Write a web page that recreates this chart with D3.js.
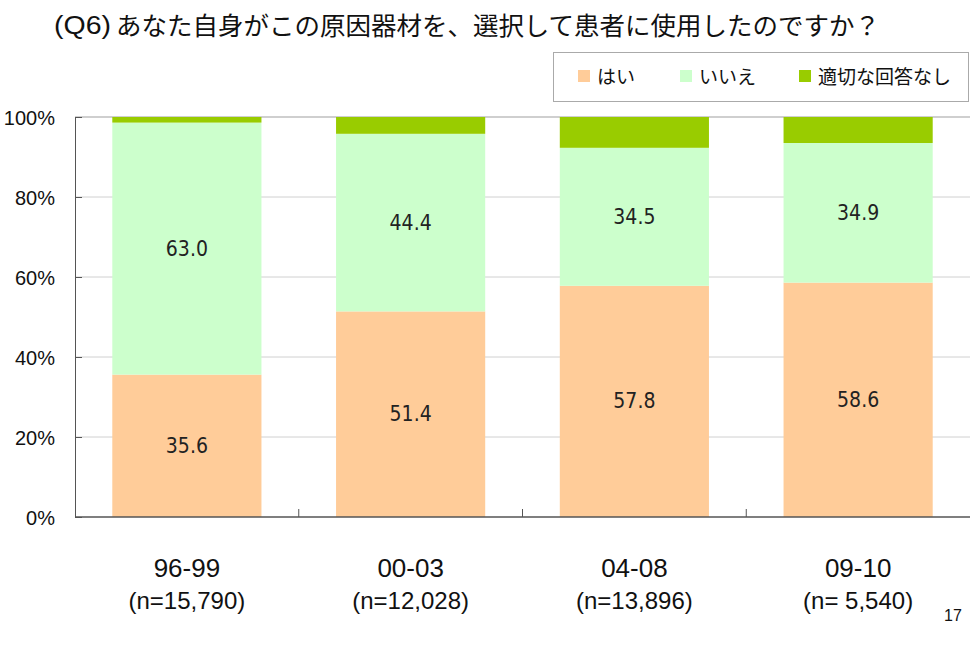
<!DOCTYPE html>
<html><head><meta charset="utf-8">
<script src="https://cdn.jsdelivr.net/npm/d3@7/dist/d3.min.js"></script>
<style>body{margin:0;background:#fff}svg{display:block}</style>
</head><body>
<svg id="c" width="971" height="646"></svg>
<script>
const categories = ["96-99","00-03","04-08","09-10"];
const sampleLabels = ["(n=15,790)","(n=12,028)","(n=13,896)","(n= 5,540)"];
const seriesNames = ["はい","いいえ","適切な回答なし"];
const yes = [35.6, 51.4, 57.8, 58.6];
const no = [63.0, 44.4, 34.5, 34.9];
const noAnswer = [1.4, 4.2, 7.7, 6.5];
const yTicks = [0,20,40,60,80,100];
const titlePrefix = "(Q6)";
const title = "あなた自身がこの原因器材を、選択して患者に使用したのですか？";
const pageNo = "17";

const colors = ["#FFCC99","#CCFFCC","#99CC00"];
const svg = d3.select("#c");
const L = 75, R = 970, T = 117, B = 517;
const latin = "'Liberation Sans',Arial,sans-serif";
const jp = "'Noto Sans CJK JP','Noto Sans',sans-serif";

const x = d3.scaleBand().domain(categories).range([L,R]).paddingInner(1/3).paddingOuter(1/6);
const y = d3.scaleLinear().domain([0,100]).range([B,T]);

// gridlines
svg.append("g").selectAll("line").data(yTicks.filter(d=>d>0&&d<100)).join("line")
  .attr("x1",L).attr("x2",R).attr("y1",d=>y(d)).attr("y2",d=>y(d))
  .attr("stroke","#d0d0d0").attr("stroke-width",1);
svg.append("line").attr("x1",L).attr("x2",R).attr("y1",y(100)).attr("y2",y(100))
  .attr("stroke","#a0a0a0").attr("stroke-width",1.2);

const data = categories.map((c,i)=>({c, vals:[yes[i],no[i],noAnswer[i]]}));
const stackData = data.map(d=>{let acc=0;return d.vals.map((v,k)=>{const s={c:d.c,k,v,y0:acc,y1:acc+v};acc+=v;return s;});}).flat();

svg.append("g").selectAll("rect").data(stackData).join("rect")
  .attr("x",d=>x(d.c)).attr("width",x.bandwidth())
  .attr("y",d=>y(Math.min(d.y1,100))).attr("height",d=>y(d.y0)-y(Math.min(d.y1,100)))
  .attr("fill",d=>colors[d.k]);

svg.append("g").selectAll("text").data(stackData.filter(d=>d.k<2)).join("text")
  .attr("x",d=>x(d.c)+x.bandwidth()/2).attr("y",d=>y((d.y0+d.y1)/2))
  .attr("text-anchor","middle").attr("dominant-baseline","central")
  .attr("font-family","'DejaVu Sans Condensed','Liberation Sans Narrow',sans-serif").attr("font-size",21).attr("fill","#222")
  .text(d=>d.v.toFixed(1));

// axes
const yAxis = svg.append("g").attr("transform",`translate(${L},0)`)
  .call(d3.axisLeft(y).tickValues(yTicks).tickFormat(d=>d+"%").tickSize(-7).tickPadding(20));
yAxis.select(".domain").attr("stroke","#555");
yAxis.selectAll(".tick line").attr("stroke","#555");
yAxis.selectAll("text").attr("font-family",latin).attr("font-size",20).attr("fill","#111").attr("dy","0.38em");

const xb = d3.scaleLinear().domain([0,4]).range([L,R]);
svg.append("line").attr("x1",L).attr("x2",R).attr("y1",B).attr("y2",B).attr("stroke","#555").attr("stroke-width",1.5);
svg.append("g").selectAll("line").data([1,2,3]).join("line")
  .attr("x1",d=>xb(d)).attr("x2",d=>xb(d)).attr("y1",B-8).attr("y2",B)
  .attr("stroke","#555");

const cl = svg.append("g");
cl.selectAll("text.cat").data(categories).join("text").attr("class","cat")
  .attr("x",d=>x(d)+x.bandwidth()/2).attr("y",577).attr("text-anchor","middle")
  .attr("font-family",latin).attr("font-size",26).attr("fill","#111").text(d=>d);
cl.selectAll("text.n").data(categories).join("text").attr("class","n")
  .attr("x",d=>x(d)+x.bandwidth()/2).attr("y",609).attr("text-anchor","middle")
  .attr("font-family",latin).attr("font-size",24).attr("fill","#111").text((d,i)=>sampleLabels[i]);

// title
svg.append("text").attr("x",54).attr("y",34).attr("font-family",latin).attr("font-size",25)
  .attr("fill","#111").attr("textLength",57).attr("lengthAdjust","spacingAndGlyphs").text(titlePrefix);
svg.append("text").attr("x",116).attr("y",35).attr("font-family",jp).attr("font-size",25)
  .attr("fill","#111").attr("textLength",764).attr("lengthAdjust","spacingAndGlyphs").text(title);

// legend
const lg = svg.append("g");
lg.append("rect").attr("x",553.5).attr("y",52.5).attr("width",415).attr("height",49)
  .attr("fill","#fff").attr("stroke","#aaa");
const lx = [578,680,799];
seriesNames.forEach((n,i)=>{
  lg.append("rect").attr("x",lx[i]).attr("y",70).attr("width",12).attr("height",12).attr("fill",colors[i]);
  lg.append("text").attr("x",lx[i]+19).attr("y",84).attr("font-family",jp).attr("font-size",19)
    .attr("fill","#111").text(n);
});

svg.append("text").attr("x",953).attr("y",621).attr("text-anchor","middle")
  .attr("font-family",latin).attr("font-size",16).attr("fill","#111").text(pageNo);
</script>
</body></html>
